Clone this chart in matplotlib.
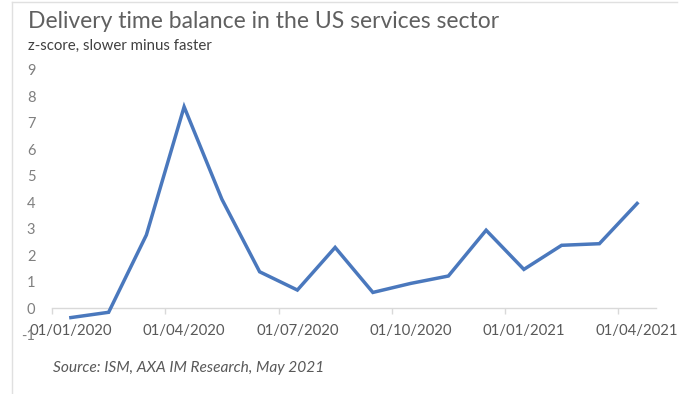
import matplotlib
matplotlib.use("Agg")
import matplotlib.pyplot as plt
from matplotlib.lines import Line2D

# Monthly delivery time balance, Jan 2020 - Apr 2021 (z-score)
months = ["Jan-20", "Feb-20", "Mar-20", "Apr-20", "May-20", "Jun-20", "Jul-20", "Aug-20",
          "Sep-20", "Oct-20", "Nov-20", "Dec-20", "Jan-21", "Feb-21", "Mar-21", "Apr-21"]
balance = [-0.35, -0.15, 2.77, 7.61, 4.12, 1.38, 0.69, 2.30,
           0.60, 0.94, 1.22, 2.95, 1.47, 2.38, 2.44, 3.96]
tick_labels = ["01/01/2020", "01/04/2020", "01/07/2020", "01/10/2020", "01/01/2021", "01/04/2021"]
label_months = [0, 3, 6, 9, 12, 15]
y_ticks = list(range(-1, 10))

plt.rcParams["font.family"] = ["Lato", "DejaVu Sans"]

fig = plt.figure(figsize=(6.88, 3.94), dpi=100)
ax = fig.add_axes([52 / 688, 1 - 334.8 / 394, 604 / 688, (334.8 - 70) / 394])

x = list(range(len(balance)))
ax.plot(x, balance, color="#4a78bd", lw=2.5, solid_joinstyle="miter", zorder=3)

ax.set_xlim(-0.5, len(balance) - 0.5)
ax.set_ylim(-1, 9)

for s in ["top", "right", "left"]:
    ax.spines[s].set_visible(False)
ax.spines["bottom"].set_position(("data", 0))
ax.spines["bottom"].set_color("#d9d9d9")
ax.spines["bottom"].set_linewidth(1.0)

# quarter boundaries as tick marks, labels centred on the month
ax.set_xticks([m - 0.5 for m in label_months])
ax.set_xticklabels([])
ax.tick_params(axis="x", which="major", length=4, width=1.0, color="#d9d9d9")
ax.set_xticks(label_months, minor=True)
ax.set_xticklabels(tick_labels, minor=True)
ax.tick_params(axis="x", which="minor", length=0, pad=11, labelsize=10.7, labelcolor="#595959")

ax.set_yticks(y_ticks)
ax.set_yticklabels([str(v) for v in y_ticks])
ax.tick_params(axis="y", length=0, pad=12, labelsize=10.5, labelcolor="#7f7f7f")

fig.text(28 / 688, 1 - 22 / 394, "Delivery time balance in the US services sector",
         fontsize=16.5, color="#606060", va="center", ha="left")
fig.text(28 / 688, 1 - 46 / 394, "z-score, slower minus faster",
         fontsize=10.8, color="#404040", va="center", ha="left")
fig.text(53 / 688, 1 - 368 / 394, "Source: ISM, AXA IM Research, May 2021",
         fontsize=11.2, color="#595959", va="center", ha="left", style="italic")

# light frame on top and left edges
fig.add_artist(Line2D([12 / 688, 12 / 688], [0, 1 - 2 / 394], transform=fig.transFigure,
                      color="#e0e0e0", lw=1.0))
fig.add_artist(Line2D([12 / 688, 677 / 688], [1 - 2 / 394, 1 - 2 / 394], transform=fig.transFigure,
                      color="#e0e0e0", lw=1.0))

fig.savefig("out.png", dpi=100, facecolor="white")
